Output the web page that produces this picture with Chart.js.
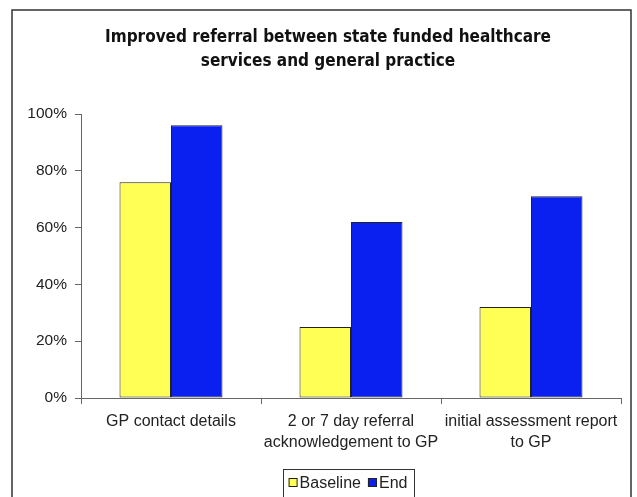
<!DOCTYPE html>
<html>
<head>
<meta charset="utf-8">
<title>Improved referral</title>
<script src="https://cdn.jsdelivr.net/npm/chart.js@4/dist/chart.umd.min.js"></script>
<style>
  html, body { margin: 0; padding: 0; background: #fff; }
  body { width: 637px; height: 497px; overflow: hidden; }
  #chart { display: block; }
</style>
</head>
<body>
<canvas id="chart" width="637" height="497"></canvas>
<script>
// ── Data ─────────────────────────────────────────────────────────────────────
const categories = [
  'GP contact details',
  ['2 or 7 day referral', 'acknowledgement to GP'],
  ['initial assessment report', 'to GP']
];
const baseline = [76, 25, 32];
const endValues = [96, 62, 71];
const yTicks = [0, 20, 40, 60, 80, 100];

const FONT = "'Liberation Sans', Arial, sans-serif";
const AXIS = '#666';

// ── Frame around the whole chart (open at the bottom) ────────────────────────
const framePlugin = {
  id: 'frame',
  afterLayout(chart) {
    // centre the title a little right of the canvas centre
    chart.titleBlock.left = 35;
  },
  afterDraw(chart) {
    const ctx = chart.ctx;
    ctx.save();
    ctx.strokeStyle = '#333';
    ctx.lineWidth = 1.5;
    ctx.beginPath();
    ctx.moveTo(12, 505);
    ctx.lineTo(12, 10);
    ctx.lineTo(631, 10);
    ctx.lineTo(631, 505);
    ctx.stroke();
    ctx.restore();
  }
};

// ── Boxed legend under the axis ──────────────────────────────────────────────
const boxLegend = {
  id: 'boxLegend',
  afterDraw(chart) {
    const ctx = chart.ctx;
    const sets = chart.data.datasets;
    const box = 9, gap = 2, between = 7, pad = 6;
    ctx.save();
    ctx.font = '16px ' + FONT;
    const widths = sets.map(ds => ctx.measureText(ds.label).width);
    let total = 0;
    widths.forEach((w, i) => { total += box + gap + w + (i < widths.length - 1 ? between : 0); });
    const cx = (chart.chartArea.left + chart.chartArea.right) / 2 - 3;
    const cy = 482.5;
    let x = cx - total / 2;

    ctx.strokeStyle = '#333';
    ctx.lineWidth = 1;
    ctx.strokeRect(Math.round(x - pad) + 0.5, 469.5, Math.round(total + pad * 2), 40);

    ctx.textBaseline = 'middle';
    sets.forEach((ds, i) => {
      ctx.fillStyle = ds.backgroundColor;
      ctx.fillRect(x, cy - box / 2, box, box);
      ctx.strokeStyle = '#222';
      ctx.strokeRect(x + 0.5, cy - box / 2 + 0.5, box - 1, box - 1);
      x += box + gap;
      ctx.fillStyle = '#222';
      ctx.fillText(ds.label, x, cy + 1);
      x += widths[i] + between;
    });
    ctx.restore();
  }
};

// ── Chart ────────────────────────────────────────────────────────────────────
new Chart(document.getElementById('chart'), {
  type: 'bar',
  data: {
    labels: categories,
    datasets: [
      {
        label: 'Baseline',
        data: baseline,
        backgroundColor: '#ffff55',
        borderColor: '#222',
        borderWidth: 1,
        borderSkipped: false
      },
      {
        label: 'End',
        data: endValues,
        backgroundColor: '#0a20f0',
        borderColor: '#222',
        borderWidth: 1,
        borderSkipped: false
      }
    ]
  },
  options: {
    responsive: false,
    animation: false,
    devicePixelRatio: 1,
    categoryPercentage: 0.572,
    barPercentage: 1,
    layout: { padding: { left: 12, right: 16, top: 0, bottom: 0 } },
    plugins: {
      legend: { display: false },
      tooltip: { enabled: false },
      title: {
        display: true,
        text: ['Improved referral between state funded healthcare', 'services and general practice'],
        color: '#111',
        font: { family: "'DejaVu Sans Condensed', 'DejaVu Sans', sans-serif", size: 17, weight: 'bold', lineHeight: 24.6 / 17 },
        padding: { top: 25, bottom: 39.8 }
      }
    },
    scales: {
      x: {
        grid: { drawOnChartArea: false, drawTicks: true, tickLength: 6, color: AXIS, offset: true },
        border: { color: AXIS, width: 1 },
        ticks: {
          color: '#222',
          padding: 7,
          maxRotation: 0,
          autoSkip: false,
          font: { family: FONT, size: 16, lineHeight: 21 / 16 }
        },
        afterFit(scale) { scale.height = 99; }
      },
      y: {
        min: 0,
        max: 100,
        afterBuildTicks(scale) { scale.ticks = yTicks.map(v => ({ value: v })); },
        grid: { drawOnChartArea: false, drawTicks: true, tickLength: 6, color: AXIS },
        border: { color: AXIS, width: 1 },
        ticks: {
          color: '#222',
          padding: 8,
          font: { family: FONT, size: 15.5 },
          callback: v => v + '%'
        },
        afterFit(scale) { scale.width = 81 - 12; }
      }
    }
  },
  plugins: [framePlugin, boxLegend]
});
</script>
</body>
</html>
